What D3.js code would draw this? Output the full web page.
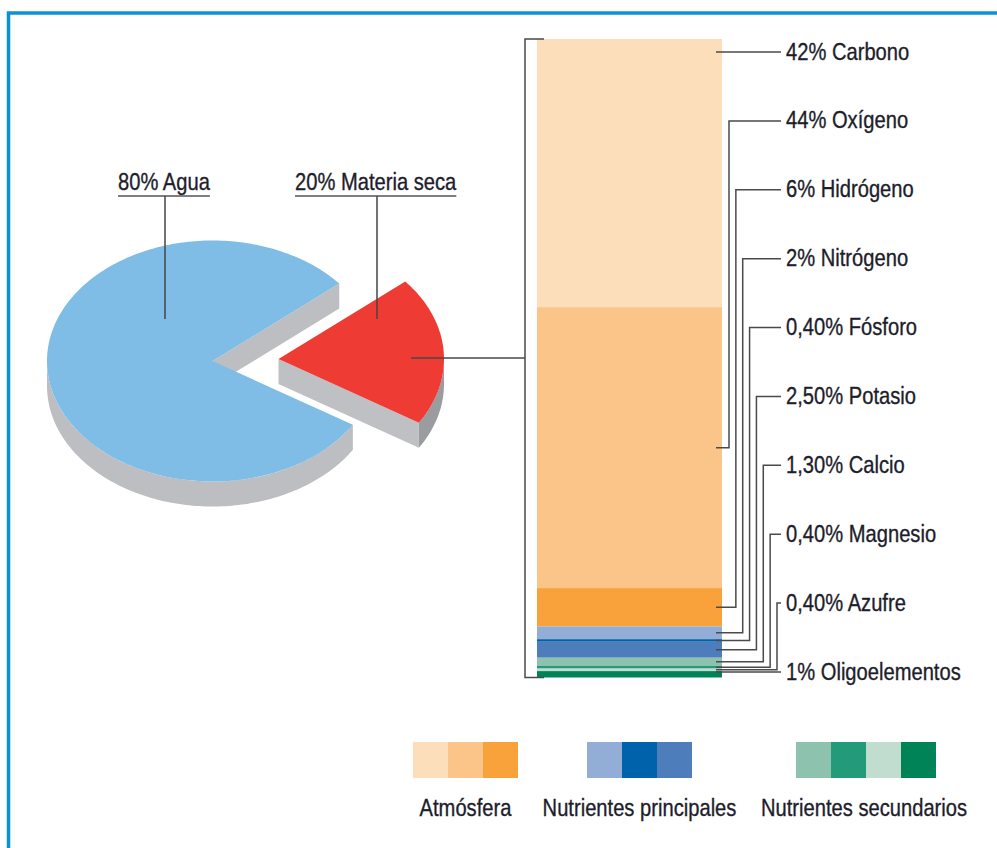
<!DOCTYPE html>
<html>
<head>
<meta charset="utf-8">
<script src="https://cdn.jsdelivr.net/npm/d3@7"></script>
<style>
  body { margin: 0; background: #fff; }
  text { font-family: "Liberation Sans", Arial, sans-serif; fill: #1d1d2b; stroke: #1d1d2b; stroke-width: 0.35px; }
</style>
</head>
<body>
<script>
// Datos del gráfico
const pieLabels = ['80% Agua', '20% Materia seca'];
const pieValues = [80, 20];
const pieColors = ['#7fbde6', '#ee3b33'];

const elements = ['Carbono', 'Oxígeno', 'Hidrógeno', 'Nitrógeno', 'Fósforo',
                  'Potasio', 'Calcio', 'Magnesio', 'Azufre', 'Oligoelementos'];
const percents = [42, 44, 6, 2, 0.4, 2.5, 1.3, 0.4, 0.4, 1];
const percentLabels = ['42%', '44%', '6%', '2%', '0,40%', '2,50%', '1,30%', '0,40%', '0,40%', '1%'];

const legendGroups = ['Atmósfera', 'Nutrientes principales', 'Nutrientes secundarios'];
const legendColors = [
    ['#fcdebb', '#fbc58a', '#f9a13a'],
    ['#93aed6', '#0062ab', '#4d7dba'],
    ['#8dc3ae', '#239b7a', '#c0ddd0', '#008457']
];
const segmentColors = legendColors.flat();

const svg = d3.select('body').append('svg')
    .attr('width', 997)
    .attr('height', 848);

// texto condensado (no hay fuente "narrow" instalada)
const squeeze = 0.84;
function addText(x, y, str, size, anchor) {
    return svg.append('g')
        .attr('transform', `translate(${x},${y}) scale(${squeeze},1)`)
        .append('text')
        .attr('text-anchor', anchor || 'start')
        .style('font-size', size + 'px')
        .text(str);
}

// Marco azul
svg.append('path')
    .attr('d', 'M8.5,848 V13 H997')
    .attr('fill', 'none')
    .attr('stroke', '#0b91d6')
    .attr('stroke-width', 3.5);

// ---- Pastel 3D ----
const cx = 212.5, cy = 361, rx = 165.5, ry = 120.5, depth = 25;
const explode = [66, -2];

function proj(a, off, dz) {
    return [cx + off[0] + rx * Math.sin(a), cy + off[1] - ry * Math.cos(a) + (dz || 0)];
}
function arcPts(a0, a1, off, dz) {
    const n = Math.max(2, Math.ceil(Math.abs(a1 - a0) / 0.02));
    return d3.range(n + 1).map(i => proj(a0 + (a1 - a0) * i / n, off, dz));
}
const line = d3.line();

const start = (50 - 288) * Math.PI / 180;
const arcs = d3.pie().sort(null).startAngle(start).endAngle(start + 2 * Math.PI)(pieValues);

arcs.forEach((d, i) => {
    const off = i === 1 ? explode : [0, 0];
    const center = [cx + off[0], cy + off[1]];
    const g = svg.append('g');

    // lado exterior visible (mitad frontal)
    let s0 = d.startAngle, s1 = d.endAngle;
    const k = Math.floor(s0 / (2 * Math.PI));
    s0 -= k * 2 * Math.PI; s1 -= k * 2 * Math.PI;
    const v0 = Math.max(s0, Math.PI / 2), v1 = Math.min(s1, 3 * Math.PI / 2);
    if (v1 > v0) {
        const pts = arcPts(v0, v1, off, 0).concat(arcPts(v1, v0, off, depth));
        g.append('path')
            .attr('d', line(pts) + 'Z')
            .attr('fill', i === 0 ? '#bcbec1' : '#9b9ca0');
    }

    // pared radial visible
    const e = proj(d.endAngle, off, 0);
    g.append('path')
        .attr('d', line([center, e, [e[0], e[1] + depth], [center[0], center[1] + depth]]) + 'Z')
        .attr('fill', i === 0 ? '#bdbec2' : '#bfc0c4');

    // cara superior
    g.append('path')
        .attr('d', line([center].concat(arcPts(d.startAngle, d.endAngle, off, 0))) + 'Z')
        .attr('fill', pieColors[i]);
});

// Etiquetas del pastel
const pieLabelPos = [[118, 165], [295, 377]];
pieLabels.forEach((t, i) => {
    const txt = addText(pieLabelPos[i][0], 190, t, 24);
    const w = txt.node().getComputedTextLength() * squeeze;
    svg.append('line')
        .attr('x1', pieLabelPos[i][0]).attr('x2', pieLabelPos[i][0] + w)
        .attr('y1', 196).attr('y2', 196)
        .attr('stroke', '#555').attr('stroke-width', 1.5);
    svg.append('line')
        .attr('x1', pieLabelPos[i][1]).attr('x2', pieLabelPos[i][1])
        .attr('y1', 196).attr('y2', 319)
        .attr('stroke', '#444').attr('stroke-width', 1.5);
});

// ---- Barra apilada ----
const barX = 537, barW = 185;
const y = d3.scaleLinear().domain([0, d3.sum(percents)]).range([39, 677.5]);
const ends = d3.cumsum(percents);
const segs = percents.map((p, i) => ({ name: elements[i], y0: ends[i] - p, y1: ends[i], i }));

svg.selectAll('.seg')
    .data(segs)
    .enter()
    .append('rect')
    .attr('class', 'seg')
    .attr('x', barX)
    .attr('width', barW)
    .attr('y', d => y(d.y0))
    .attr('height', d => y(d.y1) - y(d.y0))
    .attr('fill', (d, i) => segmentColors[i]);

// Corchete y línea desde el pastel
const lineColor = '#4a4a4a';
svg.append('path')
    .attr('d', `M544,${y(0)} H525 V${y(100)} H544 M411,358 H525`)
    .attr('fill', 'none')
    .attr('stroke', lineColor)
    .attr('stroke-width', 1.5);

// Etiquetas de la barra
const labelY = d3.scalePoint().domain(elements).range([52, 672]);
const elbowX = d3.scaleLinear().domain([1, 8]).range([729, 777]);

segs.forEach(d => {
    const ly = labelY(d.name);
    const top = y(d.y0), bot = y(d.y1);
    let path;
    if (ly >= top && ly <= bot) {
        path = `M716,${ly} H781`;
    } else {
        const mid = (top + bot) / 2;
        const ex = elbowX(d.i);
        path = `M716,${mid} H${ex} V${ly} H781`;
    }
    svg.append('path')
        .attr('d', path)
        .attr('fill', 'none')
        .attr('stroke', lineColor)
        .attr('stroke-width', 1.5);
    addText(786, ly + 7.5, `${percentLabels[d.i]} ${d.name}`, 24);
});

// ---- Leyenda ----
const legendX = [413, 587, 796];
const sq = 35;
legendGroups.forEach((name, gi) => {
    const cols = legendColors[gi];
    svg.selectAll(null)
        .data(cols)
        .enter()
        .append('rect')
        .attr('x', (c, j) => legendX[gi] + j * sq)
        .attr('y', 742)
        .attr('width', sq)
        .attr('height', 36)
        .attr('fill', c => c);
    addText(legendX[gi] + cols.length * sq / 2 - (gi === 2 ? 2 : 0), 816, name, 24, 'middle');
});
</script>
</body>
</html>
